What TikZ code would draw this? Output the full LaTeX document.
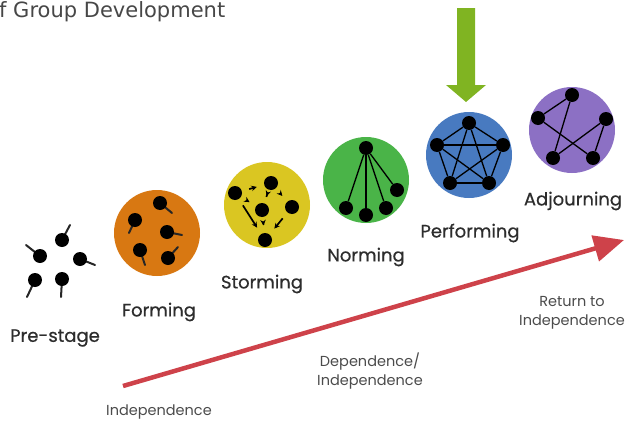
\documentclass[tikz,border=0pt]{standalone}
\usepackage{fontspec}
\setmainfont{Poppins}
\newfontfamily\titlefont{DejaVu Sans}
\newfontfamily\labelfont{Poppins}[BoldFont=Poppins, BoldFeatures={FakeBold=0.6}]
\usetikzlibrary{arrows.meta}

\definecolor{formorange}{RGB}{216,120,18}
\definecolor{stormyellow}{RGB}{218,198,34}
\definecolor{normgreen}{RGB}{74,180,72}
\definecolor{perfblue}{RGB}{72,122,192}
\definecolor{adjpurple}{RGB}{140,112,196}
\definecolor{trendred}{RGB}{206,66,74}
\definecolor{pointgreen}{RGB}{128,180,34}
\definecolor{labelgray}{RGB}{45,45,45}
\definecolor{notegray}{RGB}{75,75,75}

\begin{document}
\begin{tikzpicture}[x=1pt,y=-1pt,
  stage/.style={circle, inner sep=0pt, minimum size=86pt},
  dot/.style={circle, fill=black, inner sep=0pt, minimum size=14pt},
  tail/.style={line width=2pt, black!85, line cap=round},
  link/.style={line width=1.3pt, black},
  push/.style={line width=1.7pt, black, -{Stealth[length=5.5pt,width=5.5pt]}, shorten >=7.5pt, shorten <=7.5pt},
  stagelabel/.style={font=\labelfont\bfseries\fontsize{18}{20}\selectfont, text=labelgray, inner sep=0pt},
  note/.style={font=\fontsize{14.5}{19}\selectfont, text=notegray, align=center, inner sep=0pt}]
\useasboundingbox (0,0) rectangle (629,423);

% title
\node[anchor=west, inner sep=0pt, font=\titlefont\fontsize{21}{24}\selectfont, text=black!72] (title) at (-1,12) {f Group Development};

% green pointer above the performing stage
\fill[pointgreen] (457,8) -- (475,8) -- (475,85) -- (486,85) -- (466,102) -- (446,85) -- (457,85) -- cycle;

% rising trend line
\coordinate (trendstart) at (123,386);
\coordinate (trendend) at (624,240);
\draw[trendred, line width=4.5pt, -{Triangle[length=30pt,width=26pt]}] (trendstart) -- (trendend);

% stage discs
\node[stage, fill=formorange] (forming) at (157,233) {};
\node[stage, fill=stormyellow] (storming) at (267,205) {};
\node[stage, fill=normgreen] (norming) at (366,180) {};
\node[stage, fill=perfblue] (performing) at (469,155) {};
\node[stage, fill=adjpurple] (adjourning) at (572,130) {};

% pre-stage: loose members
\draw[tail] (62,240) -- ++(8,-15);
\draw[tail] (40,256) -- ++(-14,-11);
\draw[tail] (80,259) -- ++(15,6);
\draw[tail] (35,280) -- ++(-8,17);
\draw[tail] (62,279) -- ++(-1,18);
\node[dot] (p1) at (62,240) {};
\node[dot] (p2) at (40,256) {};
\node[dot] (p3) at (80,259) {};
\node[dot] (p4) at (35,280) {};
\node[dot] (p5) at (62,279) {};

% forming
\draw[tail] (160,203) -- ++(12,10);
\draw[tail] (135,220) -- ++(-6,13);
\draw[tail] (167,232) -- ++(15,3);
\draw[tail] (140,250) -- ++(5,15);
\draw[tail] (168,258) -- ++(10,-11);
\node[dot] (f1) at (160,203) {};
\node[dot] (f2) at (135,220) {};
\node[dot] (f3) at (167,232) {};
\node[dot] (f4) at (140,250) {};
\node[dot] (f5) at (168,258) {};

% storming
\node[dot] (sa) at (235,193) {};
\node[dot] (sb) at (271,183) {};
\node[dot] (sc) at (262,210) {};
\node[dot] (sd) at (292,207) {};
\node[dot] (se) at (265,240) {};
\draw[push] (sa) -- (sb);
\draw[push] (sa) -- (sc);
\draw[push] (sb) -- (sc);
\draw[push] (sb) -- (sd);
\draw[push] (sa) -- (se);
\draw[push] (sc) -- (se);
\draw[push] (sd) -- (se);

% norming
\node[dot] (nh) at (366,148) {};
\node[dot] (n1) at (346,208) {};
\node[dot] (n2) at (366,215) {};
\node[dot] (n3) at (386,208) {};
\node[dot] (n4) at (397,190) {};
\foreach \m in {n1,n2,n3,n4} \draw[link] (nh) -- (\m);

% performing
\node[dot] (q1) at (469,123) {};
\node[dot] (q2) at (437,145) {};
\node[dot] (q3) at (503,145) {};
\node[dot] (q4) at (450,183) {};
\node[dot] (q5) at (489,183) {};
\foreach \a/\b in {q1/q2,q1/q3,q1/q4,q1/q5,q2/q3,q2/q4,q2/q5,q3/q4,q3/q5,q4/q5}
  \draw[link] (\a) -- (\b);

% adjourning
\node[dot] (r1) at (572,95) {};
\node[dot] (r2) at (538,118) {};
\node[dot] (r3) at (606,119) {};
\node[dot] (r4) at (553,158) {};
\node[dot] (r5) at (593,158) {};
\foreach \a/\b in {r1/r2,r1/r4,r2/r5,r3/r4,r3/r5}
  \draw[link] (\a) -- (\b);

% stage names
\node[stagelabel] (lpre) at (55,338) {Pre-stage};
\node[stagelabel] (lform) at (159,312) {Forming};
\node[stagelabel] (lstorm) at (262,284) {Storming};
\node[stagelabel] (lnorm) at (366,257) {Norming};
\node[stagelabel] (lperf) at (470,233) {Performing};
\node[stagelabel] (ladj) at (573,201) {Adjourning};

% relationship notes along the trend
\node[note] (nindep) at (159,412) {Independence};
\node[note] (ndep) at (370,371) {Dependence/\\Independence};
\node[note] (nret) at (572,313) {Return to\\Independence};
\end{tikzpicture}
\end{document}
